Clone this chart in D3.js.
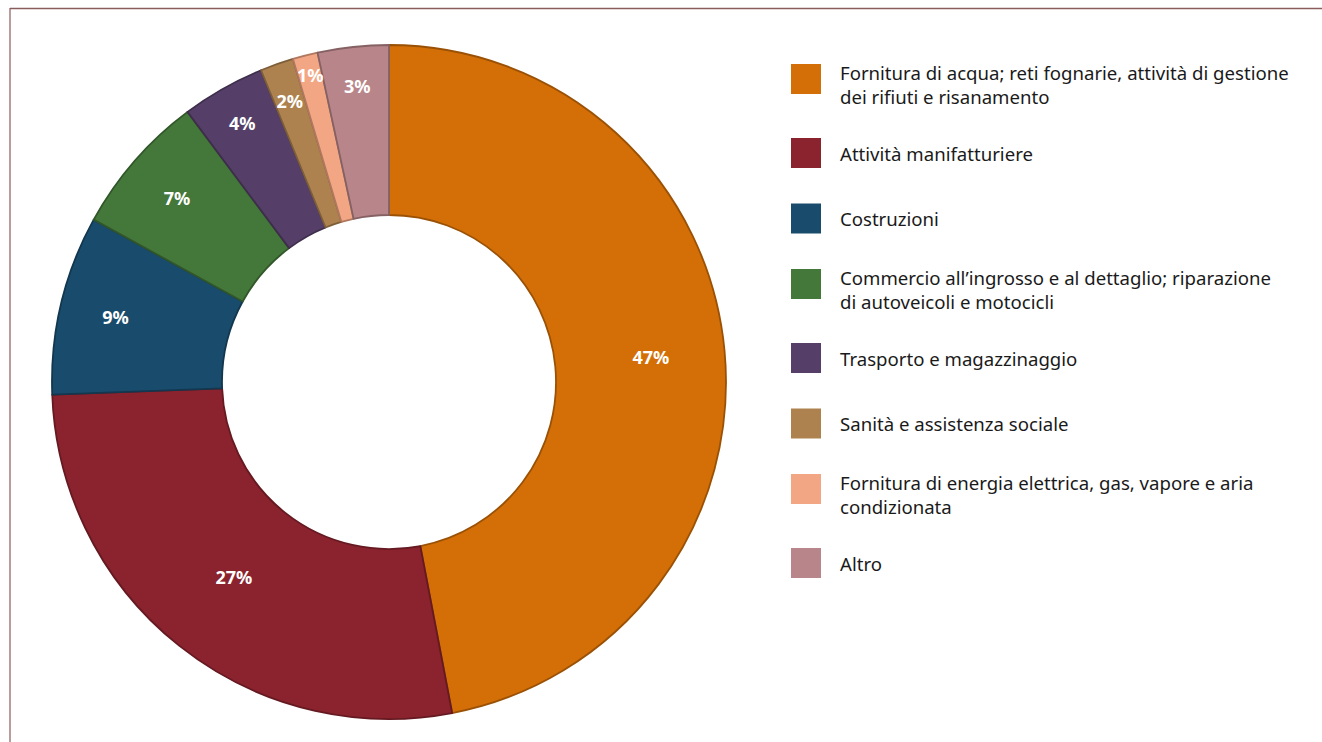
<!DOCTYPE html>
<html>
<head>
<meta charset="utf-8">
<script src="https://cdn.jsdelivr.net/npm/d3@7/dist/d3.min.js"></script>
<style>
  html, body { margin: 0; padding: 0; background: #fff; }
  svg { display: block; }
  text { font-family: "Noto Sans", "Open Sans", sans-serif; }
</style>
</head>
<body>
<svg id="chart" width="1322" height="742"></svg>
<script>
// ---- data ----
const categories = [
  "Fornitura di acqua; reti fognarie, attività di gestione\ndei rifiuti e risanamento",
  "Attività manifatturiere",
  "Costruzioni",
  "Commercio all’ingrosso e al dettaglio; riparazione\ndi autoveicoli e motocicli",
  "Trasporto e magazzinaggio",
  "Sanità e assistenza sociale",
  "Fornitura di energia elettrica, gas, vapore e aria\ncondizionata",
  "Altro"
];
const values = [47.0, 27.4, 8.6, 6.8, 4.0, 1.6, 1.2, 3.4];
const colors = ["#D46F07", "#8B232E", "#194C6C", "#44773A", "#553F68", "#AD824F", "#F2A683", "#B8868A"];

// ---- layout ----
const svg = d3.select("#chart");
const W = 1322, H = 742;
const cx = 389, cy = 382, rOuter = 337, rInner = 167;

// frame lines
svg.append("line").attr("x1", 10).attr("x2", W).attr("y1", 8.5).attr("y2", 8.5)
  .attr("stroke", "#8a5c5c").attr("stroke-width", 1.5);
svg.append("line").attr("x1", 10).attr("x2", 10).attr("y1", 8).attr("y2", H)
  .attr("stroke", "#8a5c5c").attr("stroke-width", 1.2);

const data = categories.map((c, i) => ({ name: c, value: values[i], color: colors[i] }));
const pie = d3.pie().value(d => d.value).sort(null);
const arcs = pie(data);
const arc = d3.arc().innerRadius(rInner).outerRadius(rOuter);

const g = svg.append("g").attr("transform", `translate(${cx},${cy})`);
g.selectAll("path.slice").data(arcs).join("path")
  .attr("class", "slice")
  .attr("d", arc)
  .attr("fill", d => d.data.color)
  .attr("stroke", d => d3.color(d.data.color).darker(0.9))
  .attr("stroke-width", 1.8)
  .attr("stroke-linejoin", "round");

// labels with simple collision avoidance
const fmt = d3.format(".0f");
const placed = [];
arcs.forEach(d => {
  const a = (d.startAngle + d.endAngle) / 2;
  const v = d.data.value;
  let r = v > 30 ? 263 : v > 20 ? 249 : v > 5 ? 281 : 298;
  const w = 34, h = 26;
  let x, y;
  for (let k = 0; k < 60; k++) {
    x = Math.sin(a) * r; y = -Math.cos(a) * r;
    const hit = placed.some(p => Math.abs(p.x - x) < w && Math.abs(p.y - y) < h);
    if (!hit) break;
    r += 1;
  }
  placed.push({ x, y });
  g.append("text")
    .attr("x", x).attr("y", y)
    .attr("text-anchor", "middle")
    .attr("dominant-baseline", "central")
    .attr("fill", "#ffffff")
    .attr("font-weight", 700)
    .attr("font-size", 18)
    .text(fmt(v) + "%");
});

// legend
const lg = svg.append("g").attr("transform", "translate(791,0)");
let yc = 79;
data.forEach((d, i) => {
  const lines = d.name.split("\n");
  lg.append("rect").attr("x", 0).attr("y", yc - 15).attr("width", 30).attr("height", 30)
    .attr("fill", d.color);
  const t = lg.append("text").attr("x", 49).attr("font-size", 18.6).attr("fill", "#1a1a1a");
  const y0 = lines.length > 1 ? yc - 7 : yc;
  lines.forEach((ln, j) => {
    t.append("tspan").attr("x", 49).attr("y", y0 + j * 24)
      .attr("dominant-baseline", "central").text(ln);
  });
  yc += lines.length > 1 ? 74 : 65.5;
});
</script>
</body>
</html>
